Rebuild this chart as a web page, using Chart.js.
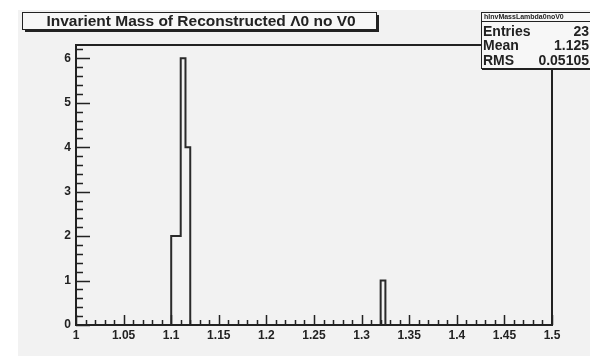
<!DOCTYPE html>
<html>
<head>
<meta charset="utf-8">
<script src="https://cdn.jsdelivr.net/npm/chart.js@4.4.1/dist/chart.umd.min.js"></script>
<style>
  html, body { margin: 0; padding: 0; background: #fff; }
  canvas { display: block; }
</style>
</head>
<body>
<canvas id="c" width="590" height="356"></canvas>
<script>
// histogram contents (only filled bins), bin width 0.005
const binLow = [1.100, 1.105, 1.110, 1.115, 1.320];
const binCounts = [2, 2, 6, 4, 1];
const xTickLabels = ['1', '1.05', '1.1', '1.15', '1.2', '1.25', '1.3', '1.35', '1.4', '1.45', '1.5'];
const yTickLabels = ['0', '1', '2', '3', '4', '5', '6'];
const titleText = 'Invarient Mass of Reconstructed \u039B0 no V0';
const statsName = 'hInvMassLambda0noV0';
const statsRows = [['Entries', '23'], ['Mean', '1.125'], ['RMS', '0.05105']];

const xMin = 1, xMax = 1.5, nBins = 100, binW = (xMax - xMin) / nBins;
const yMax = 6.3;

// full bin array, then outline points along bin edges
const bins = new Array(nBins).fill(0);
binLow.forEach((lo, i) => { bins[Math.round((lo - xMin) / binW)] = binCounts[i]; });
const outline = [{ x: xMin, y: 0 }];
bins.forEach((c, i) => {
    const lo = xMin + i * binW;
    outline.push({ x: lo, y: c });
    outline.push({ x: lo + binW, y: c });
});
outline.push({ x: xMax, y: 0 });

const FONT = '"Liberation Sans", Arial, sans-serif';
const INK = '#222';

const rootStyle = {
    id: 'rootStyle',
    beforeDraw(chart) {
        const ctx = chart.ctx;
        ctx.save();
        ctx.fillStyle = '#fff';
        ctx.fillRect(0, 0, chart.width, chart.height);
        ctx.fillStyle = '#f2f2f2';
        ctx.fillRect(18, 10, chart.width - 18, chart.height - 10);
        ctx.restore();
    },
    afterDraw(chart) {
        const ctx = chart.ctx;
        const a = chart.chartArea;
        const xs = chart.scales.x, ys = chart.scales.y;
        ctx.save();
        ctx.strokeStyle = INK;

        // frame
        ctx.lineWidth = 2;
        ctx.strokeRect(a.left, a.top, a.right - a.left, a.bottom - a.top);

        // inward ticks
        ctx.lineWidth = 1.5;
        ctx.beginPath();
        for (let k = 0; k <= 50; k++) {
            const px = Math.round(xs.getPixelForValue(xMin + k * 0.01)) + 0.5;
            const len = k % 5 === 0 ? 10 : 5;
            ctx.moveTo(px, a.bottom);
            ctx.lineTo(px, a.bottom - len);
        }
        for (let k = 0; k <= 31; k++) {
            const py = Math.round(ys.getPixelForValue(k * 0.2)) + 0.5;
            const len = k % 5 === 0 ? 14 : 7;
            ctx.moveTo(a.left, py);
            ctx.lineTo(a.left + len, py);
        }
        ctx.stroke();

        // title box with shadow
        const tx = 22, ty = 12, tw = 354, th = 17;
        ctx.fillStyle = INK;
        ctx.fillRect(tx + 3, ty + 3, tw, th);
        ctx.fillStyle = '#f7f7f7';
        ctx.fillRect(tx, ty, tw, th);
        ctx.lineWidth = 1;
        ctx.strokeRect(tx + 0.5, ty + 0.5, tw, th);
        ctx.fillStyle = INK;
        ctx.font = 'bold 15.5px ' + FONT;
        ctx.textAlign = 'center';
        ctx.textBaseline = 'middle';
        ctx.fillText(titleText, tx + tw / 2 + 2, ty + th / 2 + 1);

        // stats box
        const sx = 481, sy = 12, sw = 120, sh = 56;
        ctx.fillStyle = '#f7f7f7';
        ctx.fillRect(sx, sy, sw, sh);
        ctx.fillStyle = INK;
        ctx.fillRect(sx + 1, sy + sh, sw, 2);
        ctx.lineWidth = 1;
        ctx.strokeRect(sx + 0.5, sy + 0.5, sw, sh);
        ctx.beginPath();
        ctx.moveTo(sx, sy + 9.5);
        ctx.lineTo(sx + sw, sy + 9.5);
        ctx.stroke();
        ctx.font = 'bold 7px ' + FONT;
        ctx.textAlign = 'left';
        ctx.fillText(statsName, sx + 3, sy + 5);
        ctx.font = 'bold 14px ' + FONT;
        statsRows.forEach((r, i) => {
            const y = sy + 20 + i * 14.5;
            ctx.textAlign = 'left';
            ctx.fillText(r[0], sx + 2, y);
            ctx.textAlign = 'right';
            ctx.fillText(r[1], 589, y);
        });
        ctx.restore();
    }
};

new Chart(document.getElementById('c'), {
    type: 'line',
    data: {
        datasets: [{
            data: outline,
            borderColor: '#2a2a2a',
            borderWidth: 2,
            pointRadius: 0,
            tension: 0,
            fill: false
        }]
    },
    options: {
        responsive: false,
        animation: false,
        layout: { padding: { left: 0, right: 38, top: 45, bottom: 0 } },
        plugins: { legend: { display: false }, title: { display: false }, tooltip: { enabled: false } },
        scales: {
            x: {
                type: 'linear',
                min: xMin,
                max: xMax,
                grid: { display: false, drawTicks: false },
                border: { display: false },
                afterBuildTicks: s => { s.ticks = xTickLabels.map(t => ({ value: parseFloat(t) })); },
                afterFit: s => { s.height = 31; },
                ticks: {
                    autoSkip: false,
                    maxRotation: 0,
                    padding: 3,
                    color: INK,
                    font: { family: FONT, size: 12, weight: 'bold' },
                    callback: (v, i) => xTickLabels[i]
                }
            },
            y: {
                min: 0,
                max: yMax,
                grid: { display: false, drawTicks: false },
                border: { display: false },
                afterBuildTicks: s => { s.ticks = yTickLabels.map(t => ({ value: parseFloat(t) })); },
                afterFit: s => { s.width = 76; },
                ticks: {
                    autoSkip: false,
                    padding: 5,
                    color: INK,
                    font: { family: FONT, size: 12, weight: 'bold' },
                    callback: (v, i) => yTickLabels[i]
                }
            }
        }
    },
    plugins: [rootStyle]
});
</script>
</body>
</html>
